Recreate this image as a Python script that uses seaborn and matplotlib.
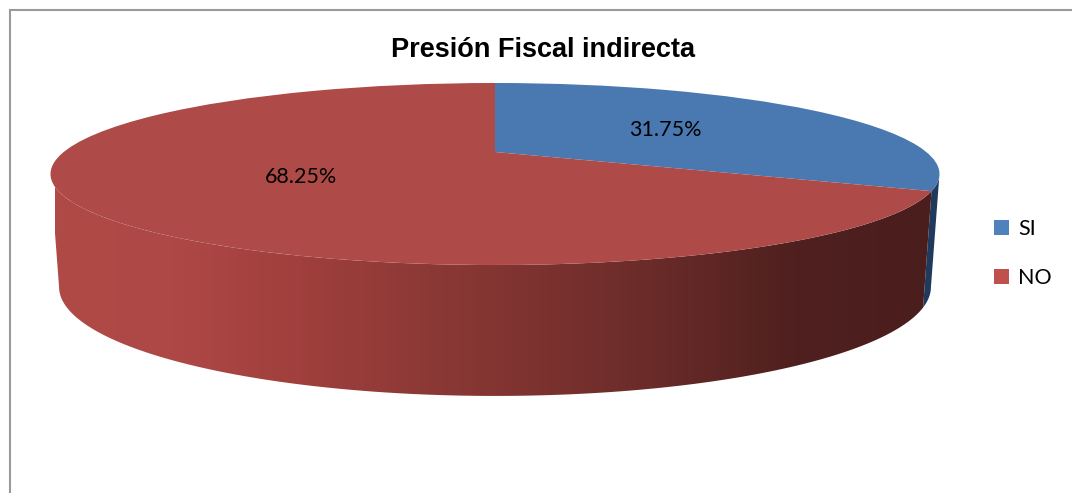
import numpy as np
import seaborn as sns
import matplotlib
matplotlib.use("Agg")
import matplotlib.pyplot as plt
from matplotlib.colors import LinearSegmentedColormap
from matplotlib.patches import Patch, Polygon
from matplotlib.path import Path
from matplotlib.transforms import Transform

categories = ["SI", "NO"]
shares = [31.75, 68.25]
title = "Presión Fiscal indirecta"

face_colors = sns.color_palette(["#4A78B0", "#AE4A47"])
legend_colors = sns.color_palette(["#4F81BD", "#C0504D"])
blue_wall = "#1F3A5C"
wall_stops = [(0.00, "#B04A46"), (0.13, "#AE4846"), (0.28, "#A03F3C"),
              (0.40, "#8F3A37"), (0.52, "#803431"), (0.68, "#6A2B29"),
              (0.84, "#4F201F"), (1.00, "#4A1E1D")]

sns.set_theme(style="white")
LABEL_FONT = ["Lato", "DejaVu Sans"]
TITLE_FONT = ["Liberation Sans", "DejaVu Sans"]


class DiscProjection(Transform):
    """Perspective view of a unit disc, giving pixel positions."""
    input_dims = output_dims = 2

    def __init__(self, cx, k, a, b, c):
        super().__init__()
        self.cx, self.k, self.a, self.b, self.c = cx, k, a, b, c

    def transform_non_affine(self, values):
        u, v = np.asarray(values).T
        d = self.c * v + 1
        return np.column_stack([self.cx + self.k * u / d,
                                (self.a * v + self.b) / d])

    def transform_path_non_affine(self, path):
        return Path(self.transform_non_affine(path.vertices), path.codes)


TILT = 0.2418
top_rim = DiscProjection(495, 431.3, -48.93, 152.0, TILT)
bottom_rim = DiscProjection(495, 423.0, -39.6, 260.6, TILT)


def wall_outline(start, stop):
    """Side wall between two clockwise angles measured from the far point."""
    t = np.radians(np.linspace(start, stop, 160))
    ring = np.column_stack([np.sin(t), np.cos(t)])
    return np.vstack([top_rim.transform_non_affine(ring),
                      bottom_rim.transform_non_affine(ring[::-1])])


fig = plt.figure(figsize=(10.72, 4.93), dpi=100, facecolor="white")
ax = fig.add_axes([0, 0, 1, 1])

wedges, _, pct_texts = ax.pie(
    shares, colors=face_colors, startangle=90, counterclock=False,
    autopct="%.2f%%", pctdistance=0.5,
    wedgeprops={"linewidth": 0, "zorder": 5},
    textprops={"fontsize": 15.5, "family": LABEL_FONT, "color": "black", "zorder": 6},
)
ax.set_aspect("auto")

for wedge in wedges:
    wedge.set_transform(top_rim + ax.transData)
for label in pct_texts:
    label.set_transform(top_rim + ax.transData)

# Visible side walls: the silhouette sits where the rim's v equals -TILT.
silhouette = np.degrees(np.arccos(-TILT))
boundary = 360 * shares[0] / sum(shares)

blue_side = Polygon(wall_outline(silhouette, boundary), closed=True,
                    facecolor=blue_wall, edgecolor="none", zorder=2)
ax.add_patch(blue_side)

red_side = Polygon(wall_outline(boundary, 360 - silhouette), closed=True,
                   facecolor="none", edgecolor="none", zorder=2)
ax.add_patch(red_side)
shade = LinearSegmentedColormap.from_list("wall", wall_stops)
gradient = ax.imshow(np.linspace(0, 1, 512)[None, :], cmap=shade, aspect="auto",
                     extent=(55, 935, 400, 170), zorder=3, interpolation="bilinear")
gradient.set_clip_path(red_side)

# Chart border, open towards the right and bottom edges.
ax.plot([10, 10, 1072], [493, 10, 10], color="#9A9A9A", lw=1.5, zorder=1,
        solid_joinstyle="miter")

ax.set(xlim=(0, 1072), ylim=(493, 0), xticks=[], yticks=[])
ax.set_frame_on(False)

ax.text(543, 50, title, ha="center", va="center", fontsize=19.5,
        fontweight="bold", family=TITLE_FONT, color="black")

handles = [Patch(facecolor=col, edgecolor="none") for col in legend_colors]
ax.legend(handles, categories, loc="center left",
          bbox_to_anchor=(985 / 1072, 1 - 253.5 / 493), frameon=False,
          prop={"family": LABEL_FONT, "size": 15.5}, handlelength=0.7,
          handleheight=0.7, handletextpad=0.45, labelspacing=1.35,
          borderpad=0, borderaxespad=0.4, labelcolor="black")

fig.savefig("out.png", dpi=100, facecolor="white")
